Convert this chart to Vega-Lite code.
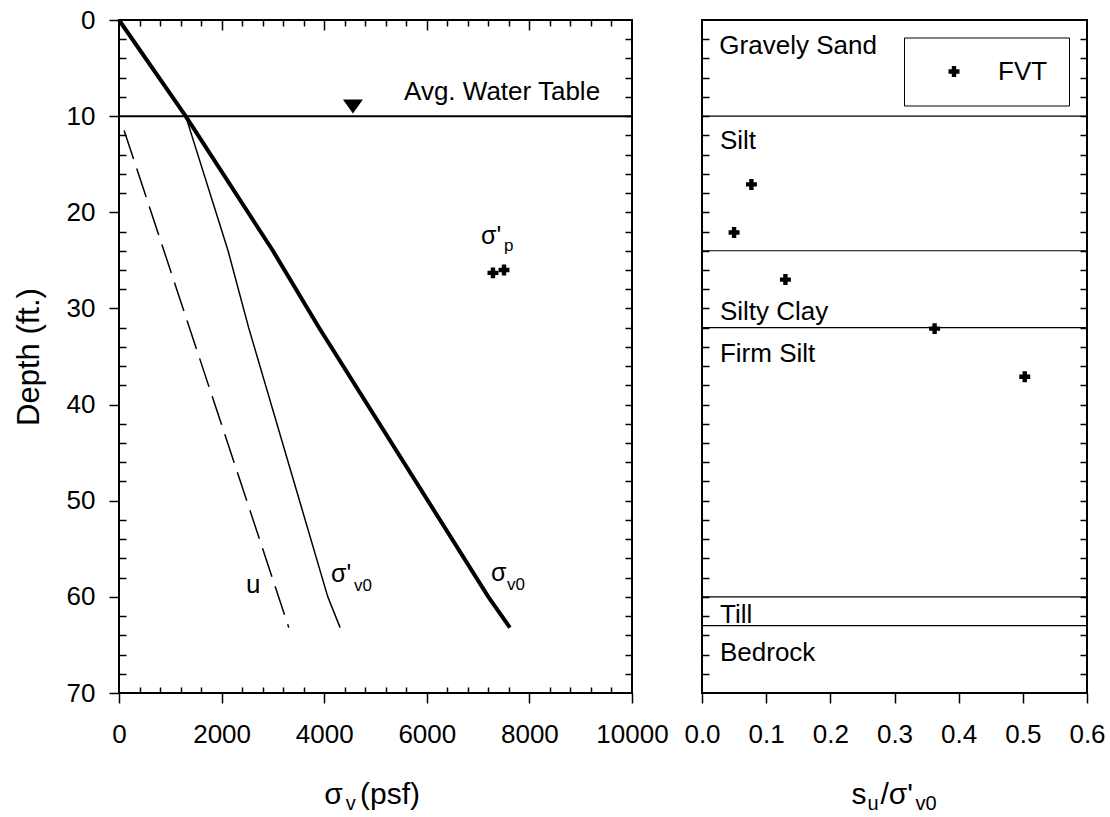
{
  "$schema": "https://vega.github.io/schema/vega-lite/v6.json",
  "background": "white",
  "padding": {"left": 12, "top": 6, "right": 5, "bottom": 0},
  "bounds": "flush",
  "spacing": 70,
  "config": {
    "view": {"stroke": "black", "strokeWidth": 2},
    "font": "Liberation Sans",
    "axis": {"domain": false, "grid": false, "tickColor": "black", "tickWidth": 1.5, "labelColor": "black", "labelFont": "Liberation Sans", "labelFontSize": 26, "titleFont": "Liberation Sans", "titleColor": "black", "titleFontWeight": "normal", "labelOverlap": false, "labelFlush": false},
    "text": {"font": "Liberation Sans", "color": "black"}
  },
  "datasets": {
    "sv": [{"stress": 0, "depth": 0}, {"stress": 1300, "depth": 10}, {"stress": 3000, "depth": 24}, {"stress": 3900, "depth": 32}, {"stress": 7200, "depth": 60}, {"stress": 7620, "depth": 63.2}],
    "sve": [{"stress": 1300, "depth": 10}, {"stress": 2126, "depth": 24}, {"stress": 2527, "depth": 32}, {"stress": 4070, "depth": 60}, {"stress": 4310, "depth": 63.2}],
    "u": [{"stress": 100, "depth": 11.5}, {"stress": 3310, "depth": 63.2}],
    "sigp": [{"stress": 7290, "depth": 26.3}, {"stress": 7505, "depth": 26.0}],
    "wt": [{"depth": 10}],
    "wtmark": [{"stress": 4560, "depth": 9.0}],
    "leftText": [{"stress": 5556, "depth": 8.27, "t": "Avg. Water Table"}, {"stress": 2476, "depth": 59.55, "t": "u"}],
    "leftSigma": [{"stress": 7057, "depth": 23.25, "t": "σ'"}, {"stress": 4133, "depth": 58.5, "t": "σ'"}, {"stress": 7251, "depth": 58.4, "t": "σ"}],
    "leftSub": [{"stress": 7505, "depth": 24.0, "t": "p"}, {"stress": 4581, "depth": 59.4, "t": "v0"}, {"stress": 7563, "depth": 59.3, "t": "v0"}],
    "leftTitle": [{"stress": 4000, "depth": 81.5, "t": "σ"}, {"stress": 4700, "depth": 81.5, "t": "(psf)"}],
    "leftTitleSub": [{"stress": 4420, "depth": 82.2, "t": "v"}],
    "fvt": [{"ratio": 0.077, "depth": 17.1, "test": "FVT"}, {"ratio": 0.05, "depth": 22.1, "test": "FVT"}, {"ratio": 0.13, "depth": 27.0, "test": "FVT"}, {"ratio": 0.3625, "depth": 32.1, "test": "FVT"}, {"ratio": 0.503, "depth": 37.1, "test": "FVT"}],
    "strata": [{"depth": 10}, {"depth": 24}, {"depth": 32}, {"depth": 60}, {"depth": 63}],
    "rightText": [{"ratio": 0.027, "depth": 3.5, "t": "Gravely Sand"}, {"ratio": 0.028, "depth": 13.4, "t": "Silt"}, {"ratio": 0.028, "depth": 31.2, "t": "Silty Clay"}, {"ratio": 0.028, "depth": 35.6, "t": "Firm Silt"}, {"ratio": 0.028, "depth": 62.7, "t": "Till"}, {"ratio": 0.028, "depth": 66.7, "t": "Bedrock"}],
    "rightTitle": [{"ratio": 0.2328, "depth": 81.5, "t": "s"}, {"ratio": 0.278, "depth": 81.5, "t": "/σ'"}],
    "rightTitleSub": [{"ratio": 0.2578, "depth": 82.2, "t": "u"}, {"ratio": 0.3328, "depth": 82.2, "t": "v0"}]
  },
  "resolve": {"scale": {"shape": "independent"}, "legend": {"shape": "independent"}},
  "hconcat": [
    {
      "width": 513,
      "height": 673,
      "resolve": {"axis": {"x": "independent", "y": "independent"}},
      "layer": [
        {
          "data": {"name": "sv"},
          "mark": {"type": "line", "color": "black", "strokeWidth": 4},
          "encoding": {
            "x": {"field": "stress", "type": "quantitative", "scale": {"domain": [0, 10000], "nice": false}, "axis": {"orient": "bottom", "values": [0, 2000, 4000, 6000, 8000, 10000], "format": "d", "tickSize": 10, "labelPadding": 18, "title": null}},
            "y": {"field": "depth", "type": "quantitative", "scale": {"domain": [0, 70], "reverse": true, "nice": false}, "axis": {"orient": "left", "values": [0, 10, 20, 30, 40, 50, 60, 70], "tickSize": 10, "labelPadding": 14, "title": "Depth (ft.)", "titleFontSize": 31, "titlePadding": 21}},
            "order": {"field": "depth", "type": "quantitative"}
          }
        },
        {
          "data": {"name": "sve"},
          "mark": {"type": "line", "color": "black", "strokeWidth": 1.5},
          "encoding": {
            "x": {"field": "stress", "type": "quantitative", "scale": {"domain": [0, 10000], "nice": false}, "axis": {"orient": "bottom", "values": [400, 800, 1200, 1600, 2400, 2800, 3200, 3600, 4400, 4800, 5200, 5600, 6400, 6800, 7200, 7600, 8400, 8800, 9200, 9600], "tickSize": -6, "labels": false, "title": null}},
            "y": {"field": "depth", "type": "quantitative", "scale": {"domain": [0, 70], "reverse": true, "nice": false}, "axis": {"orient": "left", "values": [2, 4, 6, 8, 12, 14, 16, 18, 22, 24, 26, 28, 32, 34, 36, 38, 42, 44, 46, 48, 52, 54, 56, 58, 62, 64, 66, 68], "tickSize": -7, "labels": false, "title": null}},
            "order": {"field": "depth", "type": "quantitative"}
          }
        },
        {
          "data": {"name": "u"},
          "mark": {"type": "line", "color": "black", "strokeWidth": 1.5, "strokeDash": [30, 10]},
          "encoding": {
            "x": {"field": "stress", "type": "quantitative", "scale": {"domain": [0, 10000], "nice": false}, "axis": {"orient": "top", "values": [400, 800, 1200, 1600, 2400, 2800, 3200, 3600, 4400, 4800, 5200, 5600, 6400, 6800, 7200, 7600, 8400, 8800, 9200, 9600], "tickSize": -6, "labels": false, "title": null}},
            "y": {"field": "depth", "type": "quantitative", "scale": {"domain": [0, 70], "reverse": true, "nice": false}, "axis": {"orient": "right", "values": [2, 4, 6, 8, 10, 12, 14, 16, 18, 20, 22, 24, 26, 28, 30, 32, 34, 36, 38, 40, 42, 44, 46, 48, 50, 52, 54, 56, 58, 60, 62, 64, 66, 68], "tickSize": -7, "labels": false, "title": null}},
            "order": {"field": "depth", "type": "quantitative"}
          }
        },
        {
          "data": {"name": "sigp"},
          "mark": {"type": "point", "shape": "cross", "filled": true, "color": "black", "opacity": 1, "size": 120},
          "encoding": {
            "x": {"field": "stress", "type": "quantitative", "scale": {"domain": [0, 10000], "nice": false}, "axis": {"orient": "top", "values": [2000, 4000, 6000, 8000], "tickSize": -10, "labels": false, "title": null}},
            "y": {"field": "depth", "type": "quantitative", "scale": {"domain": [0, 70], "reverse": true, "nice": false}, "axis": null}
          }
        },
        {
          "data": {"name": "wt"},
          "mark": {"type": "rule", "color": "black", "strokeWidth": 2},
          "encoding": {
            "y": {"field": "depth", "type": "quantitative", "scale": {"domain": [0, 70], "reverse": true, "nice": false}, "axis": null}
          }
        },
        {
          "data": {"name": "wtmark"},
          "mark": {"type": "point", "shape": "M-1,-0.7L1,-0.7L0,0.7Z", "filled": true, "color": "black", "opacity": 1, "size": 400},
          "encoding": {
            "x": {"field": "stress", "type": "quantitative", "scale": {"domain": [0, 10000], "nice": false}, "axis": null},
            "y": {"field": "depth", "type": "quantitative", "scale": {"domain": [0, 70], "reverse": true, "nice": false}, "axis": null}
          }
        },
        {
          "data": {"name": "leftText"},
          "mark": {"type": "text", "fontSize": 26, "align": "left", "baseline": "alphabetic", "color": "black"},
          "encoding": {
            "x": {"field": "stress", "type": "quantitative", "scale": {"domain": [0, 10000], "nice": false}, "axis": null},
            "y": {"field": "depth", "type": "quantitative", "scale": {"domain": [0, 70], "reverse": true, "nice": false}, "axis": null},
            "text": {"field": "t"}
          }
        },
        {
          "data": {"name": "leftSigma"},
          "mark": {"type": "text", "fontSize": 25, "align": "left", "baseline": "alphabetic", "color": "black"},
          "encoding": {
            "x": {"field": "stress", "type": "quantitative", "scale": {"domain": [0, 10000], "nice": false}, "axis": null},
            "y": {"field": "depth", "type": "quantitative", "scale": {"domain": [0, 70], "reverse": true, "nice": false}, "axis": null},
            "text": {"field": "t"}
          }
        },
        {
          "data": {"name": "leftSub"},
          "mark": {"type": "text", "fontSize": 17, "align": "left", "baseline": "alphabetic", "color": "black"},
          "encoding": {
            "x": {"field": "stress", "type": "quantitative", "scale": {"domain": [0, 10000], "nice": false}, "axis": null},
            "y": {"field": "depth", "type": "quantitative", "scale": {"domain": [0, 70], "reverse": true, "nice": false}, "axis": null},
            "text": {"field": "t"}
          }
        },
        {
          "data": {"name": "leftTitle"},
          "mark": {"type": "text", "fontSize": 30, "align": "left", "baseline": "alphabetic", "color": "black"},
          "encoding": {
            "x": {"field": "stress", "type": "quantitative", "scale": {"domain": [0, 10000], "nice": false}, "axis": null},
            "y": {"field": "depth", "type": "quantitative", "scale": {"domain": [0, 70], "reverse": true, "nice": false}, "axis": null},
            "text": {"field": "t"}
          }
        },
        {
          "data": {"name": "leftTitleSub"},
          "mark": {"type": "text", "fontSize": 20, "align": "left", "baseline": "alphabetic", "color": "black"},
          "encoding": {
            "x": {"field": "stress", "type": "quantitative", "scale": {"domain": [0, 10000], "nice": false}, "axis": null},
            "y": {"field": "depth", "type": "quantitative", "scale": {"domain": [0, 70], "reverse": true, "nice": false}, "axis": null},
            "text": {"field": "t"}
          }
        }
      ]
    },
    {
      "width": 385,
      "height": 673,
      "resolve": {"axis": {"x": "independent", "y": "independent"}},
      "layer": [
        {
          "data": {"name": "fvt"},
          "mark": {"type": "point", "filled": true, "color": "black", "opacity": 1, "size": 120},
          "encoding": {
            "x": {"field": "ratio", "type": "quantitative", "scale": {"domain": [0, 0.6], "nice": false}, "axis": {"orient": "bottom", "values": [0, 0.1, 0.2, 0.3, 0.4, 0.5, 0.6], "format": ".1f", "tickSize": 10, "labelPadding": 18, "title": null}},
            "y": {"field": "depth", "type": "quantitative", "scale": {"domain": [0, 70], "reverse": true, "nice": false}, "axis": {"orient": "left", "values": [2, 4, 6, 8, 10, 12, 14, 16, 18, 20, 22, 24, 26, 28, 30, 32, 34, 36, 38, 40, 42, 44, 46, 48, 50, 52, 54, 56, 58, 60, 62, 64, 66, 68], "tickSize": -7, "labels": false, "title": null}},
            "shape": {"field": "test", "type": "nominal", "scale": {"range": ["cross"]}, "legend": {"title": null, "orient": "none", "legendX": 202, "legendY": 17.5, "strokeColor": "black", "fillColor": "white", "padding": 21, "symbolOffset": 16, "labelOffset": 31, "labelFontSize": 26, "labelFont": "Liberation Sans", "labelColor": "black", "symbolSize": 120, "symbolFillColor": "black", "symbolStrokeColor": "black", "symbolStrokeWidth": 0}}
          }
        },
        {
          "data": {"name": "strata"},
          "mark": {"type": "rule", "color": "black", "strokeWidth": 1.2},
          "encoding": {
            "y": {"field": "depth", "type": "quantitative", "scale": {"domain": [0, 70], "reverse": true, "nice": false}, "axis": {"orient": "right", "values": [2, 4, 6, 8, 10, 12, 14, 16, 18, 20, 22, 24, 26, 28, 30, 32, 34, 36, 38, 40, 42, 44, 46, 48, 50, 52, 54, 56, 58, 60, 62, 64, 66, 68], "tickSize": -7, "labels": false, "title": null}}
          }
        },
        {
          "data": {"name": "rightText"},
          "mark": {"type": "text", "fontSize": 26, "align": "left", "baseline": "alphabetic", "color": "black"},
          "encoding": {
            "x": {"field": "ratio", "type": "quantitative", "scale": {"domain": [0, 0.6], "nice": false}, "axis": null},
            "y": {"field": "depth", "type": "quantitative", "scale": {"domain": [0, 70], "reverse": true, "nice": false}, "axis": null},
            "text": {"field": "t"}
          }
        },
        {
          "data": {"name": "rightTitle"},
          "mark": {"type": "text", "fontSize": 30, "align": "left", "baseline": "alphabetic", "color": "black"},
          "encoding": {
            "x": {"field": "ratio", "type": "quantitative", "scale": {"domain": [0, 0.6], "nice": false}, "axis": null},
            "y": {"field": "depth", "type": "quantitative", "scale": {"domain": [0, 70], "reverse": true, "nice": false}, "axis": null},
            "text": {"field": "t"}
          }
        },
        {
          "data": {"name": "rightTitleSub"},
          "mark": {"type": "text", "fontSize": 20, "align": "left", "baseline": "alphabetic", "color": "black"},
          "encoding": {
            "x": {"field": "ratio", "type": "quantitative", "scale": {"domain": [0, 0.6], "nice": false}, "axis": null},
            "y": {"field": "depth", "type": "quantitative", "scale": {"domain": [0, 70], "reverse": true, "nice": false}, "axis": null},
            "text": {"field": "t"}
          }
        }
      ]
    }
  ]
}
